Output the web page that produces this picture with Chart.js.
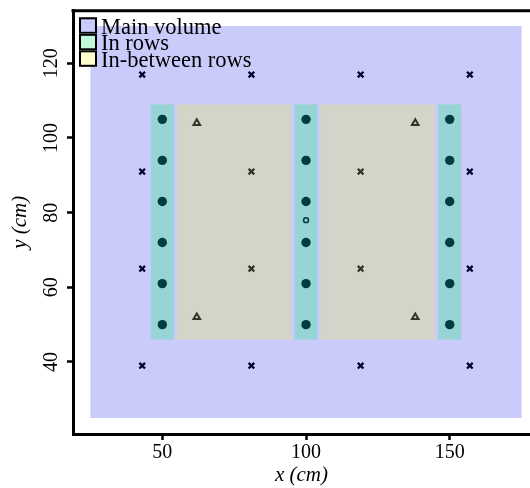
<!DOCTYPE html>
<html>
<head>
<meta charset="utf-8">
<script src="https://cdn.jsdelivr.net/npm/chart.js@4.4.1/dist/chart.umd.min.js"></script>
<style>
  html, body { margin: 0; padding: 0; background: #fff; overflow: hidden; }
  canvas { display: block; }
</style>
</head>
<body>
<canvas id="chart__layout-canvas" width="530" height="488"></canvas>
<script>
const chartLayout = document.getElementById("chart__layout-canvas");

// regions, each box is [x0, x1, y0, y1] in cm
const regionNames = ["Main volume", "In rows", "In-between rows"];
const mainVolume = [[25, 175, 25, 130]];
const inRows = [
  [46, 54, 46, 109],
  [96, 104, 46, 109],
  [146, 154, 46, 109],
];
const betweenRows = [
  [55, 95, 46, 109],
  [105, 145, 46, 109],
];

// plants in the rows
const plantX = [50, 50, 50, 50, 50, 50, 100, 100, 100, 100, 100, 100, 150, 150, 150, 150, 150, 150];
const plantY = [50, 61, 72, 83, 94, 105, 50, 61, 72, 83, 94, 105, 50, 61, 72, 83, 94, 105];

// sensor grid (crosses)
const crossX = [43, 81, 119, 157, 43, 81, 119, 157, 43, 81, 119, 157, 43, 81, 119, 157];
const crossY = [39, 39, 39, 39, 65, 65, 65, 65, 91, 91, 91, 91, 117, 117, 117, 117];

// triangles between rows
const triX = [62, 62, 138, 138];
const triY = [52, 104, 52, 104];

// single open marker
const ringX = [100];
const ringY = [78];

const xTicks = [50, 100, 150];
const yTicks = [40, 60, 80, 100, 120];

const toPoints = (xs, ys) => xs.map((x, i) => ({ x: x, y: ys[i] }));

const regionBoxes = [mainVolume, inRows, betweenRows];
const regionColors = [
  "rgba(0, 10, 235, 0.21)",
  "rgba(0, 238, 105, 0.25)",
  "rgba(255, 255, 0, 0.2)",
];

const fillBox = (ctx, xs, ys, box, color) => {
  const left = xs.getPixelForValue(box[0]);
  const right = xs.getPixelForValue(box[1]);
  const top = ys.getPixelForValue(box[3]);
  const bottom = ys.getPixelForValue(box[2]);
  ctx.fillStyle = color;
  ctx.fillRect(left, top, right - left, bottom - top);
};

const regionsPlugin = {
  id: "regions",
  afterDatasetsDraw(chart) {
    const { ctx, chartArea, scales } = chart;
    ctx.save();
    ctx.beginPath();
    ctx.rect(chartArea.left, chartArea.top, chartArea.right - chartArea.left, chartArea.bottom - chartArea.top);
    ctx.clip();
    regionBoxes.forEach((boxes, i) => {
      boxes.forEach((b) => fillBox(ctx, scales.x, scales.y, b, regionColors[i]));
    });
    ctx.restore();
  },
  afterDraw(chart) {
    const { ctx, chartArea } = chart;
    ctx.save();
    // top frame line
    ctx.strokeStyle = "#000";
    ctx.lineWidth = 3;
    ctx.beginPath();
    ctx.moveTo(chartArea.left - 1.5, chartArea.top);
    ctx.lineTo(chartArea.right, chartArea.top);
    ctx.stroke();

    // legend
    const bx = chartArea.left + 6;
    const by = chartArea.top + 6.6;
    const bw = 18;
    const bh = 16.5;
    ctx.font = "22.5px 'Liberation Serif', serif";
    ctx.textBaseline = "alphabetic";
    ctx.textAlign = "left";
    regionNames.forEach((name, i) => {
      const top = by + i * bh;
      ctx.fillStyle = "#fff";
      ctx.fillRect(bx, top, bw, bh);
      ctx.fillStyle = regionColors[i];
      ctx.fillRect(bx, top, bw, bh);
      ctx.lineWidth = 2;
      ctx.strokeStyle = "#000";
      ctx.strokeRect(bx + 1, top + 1, bw - 2, bh - 2);
      ctx.fillStyle = "#000";
      ctx.fillText(name, bx + 22, top + bh);
    });
    ctx.restore();
  },
};

Chart.defaults.font.family = "'Liberation Serif', serif";
Chart.defaults.color = "#000";

new Chart(chartLayout, {
  type: "scatter",
  data: {
    datasets: [
      {
        data: toPoints(crossX, crossY),
        pointStyle: "crossRot",
        pointRadius: 4,
        borderColor: "#000",
        borderWidth: 2.3,
      },
      {
        data: toPoints(triX, triY),
        pointStyle: "triangle",
        pointRadius: 3.8,
        backgroundColor: "rgba(0,0,0,0)",
        borderColor: "#000",
        borderWidth: 2,
      },
      {
        data: toPoints(plantX, plantY),
        pointStyle: "circle",
        pointRadius: 4.7,
        backgroundColor: "#000",
        borderWidth: 0,
      },
      {
        data: toPoints(ringX, ringY),
        pointStyle: "circle",
        pointRadius: 2.4,
        backgroundColor: "rgba(0,0,0,0)",
        borderColor: "#000",
        borderWidth: 1.6,
      },
    ],
  },
  options: {
    responsive: false,
    animation: false,
    events: [],
    layout: { autoPadding: false, padding: { top: 10.7, right: 0, left: 0, bottom: 0 } },
    plugins: {
      legend: { display: false },
      tooltip: { enabled: false },
    },
    scales: {
      x: {
        type: "linear",
        min: 18.93,
        max: 177.93,
        afterBuildTicks: (scale) => {
          scale.ticks = xTicks.map((v) => ({ value: v }));
        },
        ticks: { padding: 1, maxRotation: 0, font: { size: 20 } },
        grid: { drawOnChartArea: false, tickLength: 6, tickWidth: 2.5, tickColor: "#000" },
        border: { color: "#000", width: 3 },
        title: {
          display: true,
          text: "x (cm)",
          font: { size: 21, style: "italic" },
          padding: 0,
        },
        afterFit: (scale) => {
          scale.height = 54;
          scale.paddingLeft = 0;
          scale.paddingRight = 0;
        },
      },
      y: {
        type: "linear",
        min: 20.71,
        max: 134.1,
        afterBuildTicks: (scale) => {
          scale.ticks = yTicks.map((v) => ({ value: v }));
        },
        ticks: {
          minRotation: 90,
          maxRotation: 90,
          crossAlign: "center",
          padding: 0,
          font: { size: 20 },
        },
        grid: { drawOnChartArea: false, tickLength: 6, tickWidth: 2.5, tickColor: "#000" },
        border: { color: "#000", width: 3 },
        title: {
          display: true,
          text: "y (cm)",
          font: { size: 21, style: "italic" },
          padding: { top: 8, bottom: 0 },
        },
        afterFit: (scale) => {
          scale.width = 73;
          scale.paddingTop = 0;
          scale.paddingBottom = 0;
        },
      },
    },
  },
  plugins: [regionsPlugin],
});
</script>
</body>
</html>
